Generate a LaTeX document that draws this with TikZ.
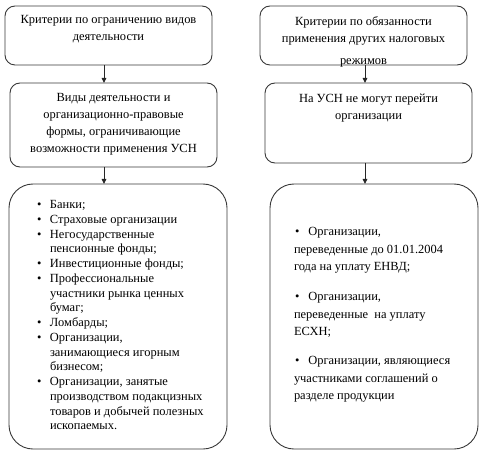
\documentclass[tikz,border=0pt]{standalone}
\usepackage{fontspec}
\setmainfont{Liberation Serif}
\usetikzlibrary{arrows.meta}
\begin{document}
\begin{tikzpicture}[x=1bp,y=-1bp,
  box/.style={draw=black!78, line width=0.9bp, rounded corners=10bp, inner sep=0pt, outer sep=0pt, anchor=north west},
  bigbox/.style={box, rounded corners=24bp},
  txt/.style={inner sep=0pt, outer sep=0pt, font=\fontsize{12.5}{17}\selectfont, align=center, anchor=north},
  listtxt/.style={inner sep=0pt, outer sep=0pt, align=left, anchor=north west},
  arr/.style={-{Triangle[length=5bp,width=4.5bp]}, line width=0.9bp, draw=black!85}]
\useasboundingbox (0,0) rectangle (487,460);

% boxes
\node[box, minimum width=207bp, minimum height=59bp] (b1) at (5,6) {};
\node[box, minimum width=207bp, minimum height=59bp] (b2) at (260,6) {};
\node[box, minimum width=207bp, minimum height=84bp] (b3) at (10,83) {};
\node[box, minimum width=207bp, minimum height=80bp] (b4) at (265,83) {};
\node[bigbox, minimum width=218bp, minimum height=265bp] (b5) at (9,184) {};
\node[bigbox, minimum width=208bp, minimum height=265bp] (b6) at (270,184) {};

% arrows
\coordinate (xl) at (104,0);
\coordinate (xr) at (365,0);
\draw[arr] (b1.south -| xl) -- (b3.north -| xl);
\draw[arr] (b3.south -| xl) -- (b5.north -| xl);
\draw[arr] (b2.south -| xr) -- (b4.north -| xr);
\draw[arr] (b4.south -| xr) -- (b6.north -| xr);

% texts
\node[txt] (t1) at (108.5,15.5) {Критерии по ограничению видов\\деятельности};
\node[txt] (t2) at (363.5,16.5) {Критерии по обязанности\\применения других налоговых\\[5bp]режимов};
\node[txt] (t3) at (113.5,93.5) {Виды деятельности и\\организационно-правовые\\формы, ограничивающие\\возможности применения УСН};
\node[txt, font=\fontsize{12.5}{18}\selectfont] (t4) at (368.5,93.5) {На УСН не могут перейти\\организации};

\node[listtxt, font=\fontsize{12.5}{14.8}\selectfont] (t5) at (37,200.5) {%
\makebox[13bp][l]{\textbullet}Банки;\\
\makebox[13bp][l]{\textbullet}Страховые организации\\
\makebox[13bp][l]{\textbullet}Негосударственные\\
\hspace*{13bp}пенсионные фонды;\\
\makebox[13bp][l]{\textbullet}Инвестиционные фонды;\\
\makebox[13bp][l]{\textbullet}Профессиональные\\
\hspace*{13bp}участники рынка ценных\\
\hspace*{13bp}бумаг;\\
\makebox[13bp][l]{\textbullet}Ломбарды;\\
\makebox[13bp][l]{\textbullet}Организации,\\
\hspace*{13bp}занимающиеся игорным\\
\hspace*{13bp}бизнесом;\\
\makebox[13bp][l]{\textbullet}Организации, занятые\\
\hspace*{13bp}производством подакцизных\\
\hspace*{13bp}товаров и добычей полезных\\
\hspace*{13bp}ископаемых.};

\node[listtxt, font=\fontsize{12.5}{17.5}\selectfont] (t6a) at (294,227.5) {%
\hspace*{1bp}\textbullet\hspace{9bp}Организации,\\
переведенные до 01.01.2004\\
года на уплату ЕНВД;};
\node[listtxt, font=\fontsize{12.5}{17.5}\selectfont] (t6b) at (294,292.5) {%
\hspace*{1bp}\textbullet\hspace{9bp}Организации,\\
переведенные\ \ на уплату\\
ЕСХН;};
\node[listtxt, font=\fontsize{12.5}{17.5}\selectfont] (t6c) at (294,356.5) {%
\hspace*{1bp}\textbullet\hspace{9bp}Организации, являющиеся\\
участниками соглашений о\\
разделе продукции};
\end{tikzpicture}
\end{document}
